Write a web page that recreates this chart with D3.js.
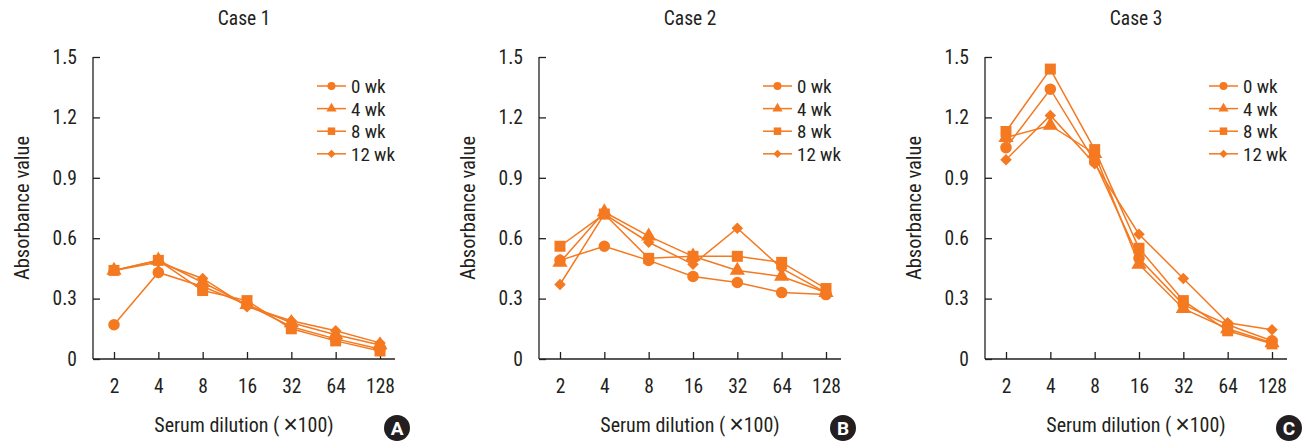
<!DOCTYPE html>
<html>
<head>
<meta charset="utf-8">
<title>Absorbance by serum dilution</title>
<script src="https://cdn.jsdelivr.net/npm/d3@7"></script>
<style>
  body { margin: 0; background: #fff; }
  text { font-family: "Liberation Sans Narrow", "Arial Narrow", "Roboto Condensed", sans-serif; fill: #231f20; }
</style>
</head>
<body>
<svg id="chart" width="1304" height="443"></svg>
<script>
// data
var dilutions = ["2", "4", "8", "16", "32", "64", "128"];
var weeks = ["0 wk", "4 wk", "8 wk", "12 wk"];
var yTicks = [0, 0.3, 0.6, 0.9, 1.2, 1.5];
var yTickLabels = ["0", "0.3", "0.6", "0.9", "1.2", "1.5"];
var caseTitles = ["Case 1", "Case 2", "Case 3"];
var badges = ["A", "B", "C"];

// rows = weeks (0, 4, 8, 12), cols = dilutions
var case1 = [
  [0.17, 0.43, 0.36, 0.27, 0.16, 0.10, 0.05],
  [0.44, 0.49, 0.38, 0.27, 0.18, 0.12, 0.07],
  [0.44, 0.49, 0.34, 0.29, 0.15, 0.09, 0.04],
  [0.44, 0.48, 0.40, 0.26, 0.19, 0.14, 0.08]
];
var case2 = [
  [0.49, 0.56, 0.49, 0.41, 0.38, 0.33, 0.32],
  [0.48, 0.73, 0.61, 0.51, 0.44, 0.41, 0.33],
  [0.56, 0.72, 0.50, 0.51, 0.51, 0.48, 0.35],
  [0.37, 0.72, 0.58, 0.47, 0.65, 0.45, 0.33]
];
var case3 = [
  [1.05, 1.34, 0.98, 0.50, 0.27, 0.17, 0.09],
  [1.10, 1.16, 1.02, 0.47, 0.25, 0.15, 0.08],
  [1.13, 1.44, 1.04, 0.55, 0.29, 0.14, 0.075],
  [0.99, 1.21, 0.97, 0.62, 0.40, 0.18, 0.145]
];
var cases = [case1, case2, case3];

var orange = "#f47920";
// diamond = square turned 45 degrees
var symbols = [d3.symbolCircle, d3.symbolTriangle, d3.symbolSquare, d3.symbolSquare];
var symRot = [0, 0, 0, 45];
var symSize = [105, 100, 121, 66];
var legSize = [50, 45, 56, 34];

var svg = d3.select("#chart");
var panelW = 302, plotTop = 57, plotBottom = 359, firstLeft = 93, gap = 446;

var y = d3.scaleLinear().domain([0, 1.5]).range([plotBottom, plotTop]);

cases.forEach(function(data, ci) {
  var left = firstLeft + ci * gap;
  var g = svg.append("g").attr("transform", "translate(" + left + ",0)");
  var x = d3.scalePoint().domain(dilutions).range([21, panelW - 15]);

  // title
  g.append("text").attr("x", panelW / 2).attr("y", 25)
    .attr("text-anchor", "middle").style("font-size", "19.5px").text(caseTitles[ci]);

  // y axis
  var yAxis = d3.axisLeft(y).tickValues(yTicks).tickSize(-7).tickPadding(16)
    .tickFormat(function(d, i) { return yTickLabels[i]; });
  var ya = g.append("g").call(yAxis);
  ya.select(".domain").attr("d", "M0," + plotTop + "V" + plotBottom);

  // x axis
  var xAxis = d3.axisBottom(x).tickSize(-7).tickPadding(20);
  var xa = g.append("g").attr("transform", "translate(0," + plotBottom + ")").call(xAxis);
  xa.select(".domain").attr("d", "M0,0H" + panelW);

  [ya, xa].forEach(function(a) {
    a.selectAll("path, line").attr("stroke", "#231f20").attr("stroke-width", 1.3);
    a.selectAll("text").style("font-size", "19.5px").attr("fill", "#231f20");
  });

  // axis titles
  g.append("text").attr("transform", "translate(-64," + ((plotTop + plotBottom) / 2) + ") rotate(-90)")
    .attr("text-anchor", "middle").style("font-size", "20.5px").text("Absorbance value");
  var xt = g.append("text").attr("x", panelW / 2).attr("y", 432)
    .attr("text-anchor", "middle").style("font-size", "20px");
  xt.append("tspan").text("Serum dilution (\u2009");
  xt.append("tspan").style("font-size", "25px").style("font-family", "'Liberation Sans', sans-serif")
    .attr("dy", 1).text("\u00d7");
  xt.append("tspan").attr("dy", -1).text("100)");

  // series
  var line = d3.line().x(function(d, i) { return x(dilutions[i]); }).y(function(d) { return y(d); });
  data.forEach(function(vals, si) {
    g.append("path").datum(vals).attr("d", line)
      .attr("fill", "none").attr("stroke", orange).attr("stroke-width", 1.5);
  });
  data.forEach(function(vals, si) {
    g.append("g").selectAll("path").data(vals).enter().append("path")
      .attr("d", d3.symbol().type(symbols[si]).size(symSize[si]))
      .attr("transform", function(d, i) {
        return "translate(" + x(dilutions[i]) + "," + y(d) + ") rotate(" + symRot[si] + ")";
      })
      .attr("fill", orange);
  });

  // legend
  var leg = g.append("g").attr("transform", "translate(224,86)");
  weeks.forEach(function(w, si) {
    var r = leg.append("g").attr("transform", "translate(0," + si * 22.6 + ")");
    r.append("line").attr("x1", 0).attr("x2", 29).attr("stroke", orange).attr("stroke-width", 1.5);
    r.append("path").attr("d", d3.symbol().type(symbols[si]).size(legSize[si]))
      .attr("transform", "translate(14.5,0) rotate(" + symRot[si] + ")").attr("fill", orange);
    r.append("text").attr("x", 34).attr("y", 7).style("font-size", "19px").text(w);
  });

  // badge
  var b = g.append("g").attr("transform", "translate(304,428)");
  b.append("circle").attr("r", 13).attr("fill", "#231f20");
  b.append("text").attr("y", 7).attr("text-anchor", "middle")
    .style("font-size", "19px").style("font-weight", "bold").style("fill", "#fff")
    .style("font-family", "Roboto, 'Liberation Sans', sans-serif").text(badges[ci]);
});
</script>
</body>
</html>
